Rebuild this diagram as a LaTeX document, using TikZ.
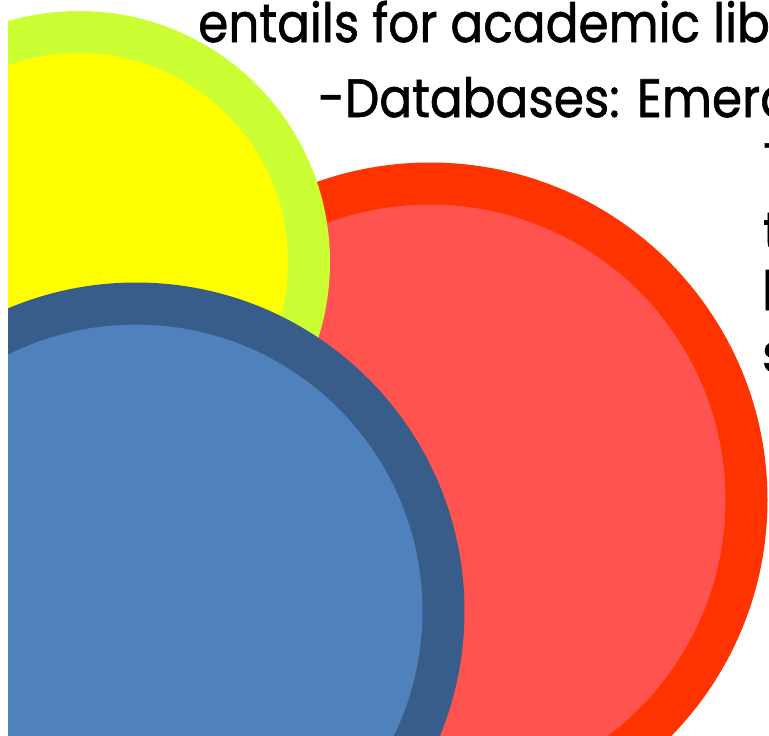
\documentclass[tikz,border=0pt]{standalone}
\usepackage{fontspec}
\usepackage{graphicx}
\newfontfamily\chufont[FakeBold=1.2]{Poppins}
\newcommand{\hep}[1]{\scalebox{0.9}[1]{#1}}
\tikzset{
  chu/.style={font=\chufont\fontsize{54}{60}\selectfont, inner sep=0pt, anchor=base west, text=black}
}
\begin{document}
\begin{tikzpicture}[x=1pt,y=-1pt]
    % Khung hình
    \useasboundingbox (0,0) rectangle (769,736);
    \fill[white] (0,0) rectangle (769,736);
    \clip (8,0) rectangle (769,736);

    % Vẽ hình tròn đỏ
    \filldraw[fill={rgb,255:red,255;green,83;blue,80}, draw={rgb,255:red,255;green,51;blue,0}, line width=42pt] (430,500) circle (316.5);
    % Vẽ hình tròn vàng
    \filldraw[fill={rgb,255:red,255;green,255;blue,0}, draw={rgb,255:red,204;green,255;blue,51}, line width=42pt] (79,262) circle (230);
    % Vẽ hình tròn xanh
    \filldraw[fill={rgb,255:red,79;green,129;blue,189}, draw={rgb,255:red,56;green,93;blue,138}, line width=42pt] (136,611) circle (307.5);

    % Các dòng chữ
    \node[chu] (dong1) at (198,42) {\hep{entails for academic lib}};
    \node[chu] (dong2) at (318,117) {\hep{-Databases: Emera}};

    % Chữ bị cắt ở mép phải
    \node[chu] (mep1) at (763,181) {\hep{T}};
    \node[chu] (mep2) at (763,250) {\hep{t}};
    \node[chu] (mep3) at (762,310) {\hep{l}};
    \node[chu] (mep4) at (762,372) {\hep{s}};
\end{tikzpicture}
\end{document}
